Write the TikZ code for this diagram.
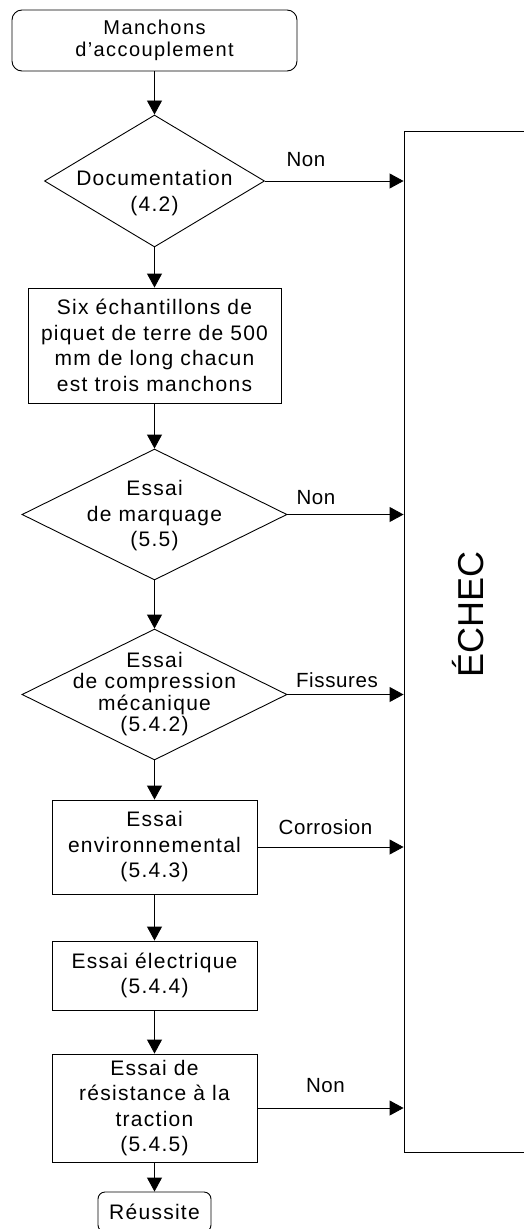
\documentclass[tikz,border=0pt]{standalone}
\usepackage{fontspec}
\setmainfont{Liberation Sans}
\newfontfamily\spacedfont[LetterSpace=6]{Liberation Sans}
\newfontfamily\startfont[LetterSpace=7]{Liberation Sans}
\newfontfamily\lblfont[LetterSpace=3]{Liberation Sans}
\usetikzlibrary{arrows.meta,shapes.geometric}
\begin{document}
\begin{tikzpicture}[x=1pt,y=-1pt,
  line width=0.9pt,
  box/.style={draw, rectangle, inner sep=0pt, align=center,
    font=\fontsize{21}{25.5}\spacedfont},
  term/.style={box, rounded corners=10pt},
  dia/.style={draw, diamond, inner sep=0pt},
  dtext/.style={align=center, inner sep=0pt, font=\fontsize{21}{25.5}\spacedfont},
  lbl/.style={anchor=base, inner sep=0pt, font=\fontsize{20.5}{22}\lblfont},
  arr/.style={-{Triangle[length=14pt,width=15pt]}}
]
\clip (0,0) rectangle (524,1229);
\fill[white] (0,0) rectangle (524,1229);

% nodes
\node[term, minimum width=285pt, minimum height=61pt,
      font=\fontsize{20}{21.5}\startfont] (start) at (154.5,40.5)
      {Manchons\\d’accouplement};

\node[dia, minimum width=220pt, minimum height=132pt] (doc) at (154.5,181) {};
\node[dtext] (doctxt) at (154.5,193) {Documentation\\(4.2)};

\node[box, minimum width=253pt, minimum height=115pt] (six) at (154.5,345.5)
      {Six échantillons de\\piquet de terre de 500\\mm de long chacun\\est trois manchons};

\node[dia, minimum width=265pt, minimum height=131pt] (marq) at (154.5,514.5) {};
\node[dtext] (marqtxt) at (154.5,516) {Essai\\de marquage\\(5.5)};

\node[dia, minimum width=265pt, minimum height=131pt] (comp) at (154.5,694.5) {};
\node[dtext, font=\fontsize{21}{21.5}\spacedfont] (comptxt) at (154.5,694)
      {Essai\\de compression\\mécanique\\(5.4.2)};

\node[box, minimum width=205pt, minimum height=94pt] (env) at (154.5,847)
      {Essai\\environnemental\\(5.4.3)};

\node[box, minimum width=205pt, minimum height=69pt] (elec) at (154.5,975.5)
      {Essai électrique\\(5.4.4)};

\node[box, minimum width=205pt, minimum height=108pt] (trac) at (154.5,1108)
      {Essai de\\résistance à la\\traction\\(5.4.5)};

\node[term, minimum width=113pt, minimum height=40pt, rounded corners=7pt] (ok) at (154.5,1212)
      {Réussite};

\node[draw, rectangle, inner sep=0pt, minimum width=160pt, minimum height=1021pt] (fail) at (484,641.5) {};
\node[rotate=90, anchor=base, inner sep=0pt, font=\fontsize{36}{40}\selectfont] (echec) at (483,614) {ÉCHEC};

% vertical flow
\draw[arr] (start) -- (doc);
\draw[arr] (doc) -- (six);
\draw[arr] (six) -- (marq);
\draw[arr] (marq) -- (comp);
\draw[arr] (comp) -- (env);
\draw[arr] (env) -- (elec);
\draw[arr] (elec) -- (trac);
\draw[arr] (trac) -- (ok);

% failure branches
\draw[arr] (doc.east) -- (doc.east -| fail.west);
\draw[arr] (marq.east) -- (marq.east -| fail.west);
\draw[arr] (comp.east) -- (comp.east -| fail.west);
\draw[arr] (env.east) -- (env.east -| fail.west);
\draw[arr] (trac.east) -- (trac.east -| fail.west);

% labels
\node[lbl] (n1) at (306,166) {Non};
\node[lbl] (n2) at (316,504) {Non};
\node[lbl] (fiss) at (337,687) {Fissures};
\node[lbl] (corr) at (325.5,834) {Corrosion};
\node[lbl] (n3) at (325.5,1092) {Non};
\end{tikzpicture}
\end{document}
